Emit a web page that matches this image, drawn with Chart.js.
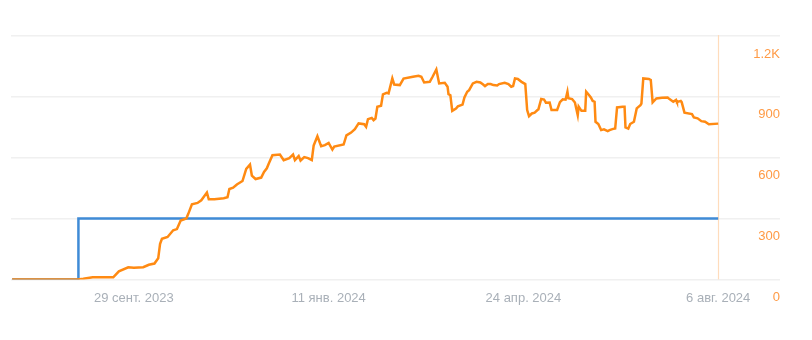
<!DOCTYPE html>
<html>
<head>
<meta charset="utf-8">
<script src="https://cdn.jsdelivr.net/npm/chart.js@4"></script>
<style>
  html, body { margin: 0; padding: 0; background: #ffffff; }
  #wrap { width: 812px; height: 340px; position: relative; }
</style>
</head>
<body>
<div id="wrap"><canvas id="c" width="812" height="340"></canvas></div>
<script>
// Day offsets counted from 26 July 2023
const orangeDays = [0,35,38,43,54,57,62,65,70,73,76,78,79,80,83,86,88,90,93,94,96,99,101,104,105,108,113,115,116,118,120,123,125,127,128,130,133,134.5,136,137,139,143,145,148,150,151,153,154,156,158,160,161,163,165,167,169,171,172,177,178.5,181,183,185,188,189,190,192,193,194,195,197,198,200,201,203,204,207,209,214,217,218.5,220,223,224.5,226.5,228,231,232.5,233,234,235,237,238,240.5,241.5,243,244,246,248,250,251.5,252.5,254,255.5,257,259,260,263,265,266.5,267.5,268.5,270,272,274,275,276,277.5,279,280.5,281,282.5,284,285,287,288,291,292.5,294,295.5,296.5,297,299,300.5,302,302.5,304,306,306.5,308,309,310,311,311.5,313,314.5,316,318,319,320.5,322,323,326,327,327.5,329,330,332,333.5,335.5,336,337,340,341,342,344,347,350,351,353,354.5,355,357,357.5,359,363,364,366,368,370,372,377];
const orangeValues = [0,0,3,10,10,40,60,58,60,72,78,104,175,200,209,242,248,290,300,322,370,377,390,428,395,395,400,405,446,452,468,485,545,566,512,495,502,530,548,570,612,616,588,598,616,588,608,586,603,598,588,660,706,657,662,673,640,655,665,710,724,741,769,765,752,790,796,785,793,851,856,912,920,917,991,961,958,990,999,1004,999,971,974,999,1035,966,969,950,913,908,831,842,853,862,897,925,933,966,974,971,961,953,963,963,958,956,963,969,963,950,953,991,988,974,963,835,805,818,822,835,838,890,887,871,872,835,835,874,888,886,925,893,889,872,810,852,831,831,925,909,897,880,876,777,766,736,740,731,736,741,744,848,851,851,749,743,766,777,843,859,867,991,988,983,873,892,895,897,889,876,885,874,880,874,822,815,799,794,780,777,765,768];
const blueDays = [0,35.2,35.4,377];
const blueValues = [0,0,300,300];
const tickDays = [65,169,273,377];
const tickLabels = ['29 сент. 2023','11 янв. 2024','24 апр. 2024','6 авг. 2024'];
const yTicks = [0,300,600,900,1200];
const yTickLabels = ['0','300','600','900','1.2K'];
const markerDay = 377;

const toPoints = (xs, ys) => xs.map((x, i) => ({x: x, y: ys[i]}));

const markerPlugin = {
  id: 'marker',
  beforeDatasetsDraw(chart) {
    const {ctx, chartArea, scales} = chart;
    const x = Math.round(scales.x.getPixelForValue(markerDay)) + 0.5;
    ctx.save();
    ctx.strokeStyle = '#ffdcbc';
    ctx.lineWidth = 1.2;
    ctx.beginPath();
    ctx.moveTo(x, chartArea.top - 1);
    ctx.lineTo(x, chartArea.bottom);
    ctx.stroke();
    ctx.restore();
  }
};

new Chart(document.getElementById('c'), {
  type: 'line',
  data: {
    datasets: [
      {
        data: toPoints(orangeDays, orangeValues),
        borderColor: '#ff8a12',
        borderWidth: 2.5,
        pointRadius: 0,
        tension: 0,
        fill: false
      },
      {
        data: toPoints(blueDays, blueValues),
        borderColor: '#3f8bd6',
        borderWidth: 2.5,
        pointRadius: 0,
        tension: 0,
        fill: false
      }
    ]
  },
  options: {
    responsive: false,
    animation: false,
    events: [],
    layout: { padding: { left: 11, right: 32, top: 36, bottom: 31 } },
    plugins: { legend: { display: false }, tooltip: { enabled: false } },
    scales: {
      x: {
        type: 'linear',
        min: -0.6,
        max: 410,
        grid: { display: false },
        border: { display: false },
        afterBuildTicks: (axis) => { axis.ticks = tickDays.map(v => ({value: v})); },
        ticks: {
          autoSkip: false,
          maxRotation: 0,
          padding: 3,
          color: '#a9b0b8',
          font: { family: 'Arial, "Liberation Sans", sans-serif', size: 13 },
          callback: (v) => { const i = tickDays.indexOf(v); return i >= 0 ? tickLabels[i] : ''; }
        }
      },
      y: {
        position: 'right',
        min: 0,
        max: 1200,
        grid: { color: '#f0f0f0', lineWidth: 1.5, drawTicks: false },
        border: { display: false },
        afterBuildTicks: (axis) => { axis.ticks = yTicks.map(v => ({value: v})); },
        ticks: {
          mirror: true,
          padding: 0,
          labelOffset: 18,
          color: '#ff9a45',
          font: { family: 'Arial, "Liberation Sans", sans-serif', size: 13 },
          callback: (v) => { const i = yTicks.indexOf(v); return i >= 0 ? yTickLabels[i] : ''; }
        }
      }
    }
  },
  plugins: [markerPlugin]
});
</script>
</body>
</html>
